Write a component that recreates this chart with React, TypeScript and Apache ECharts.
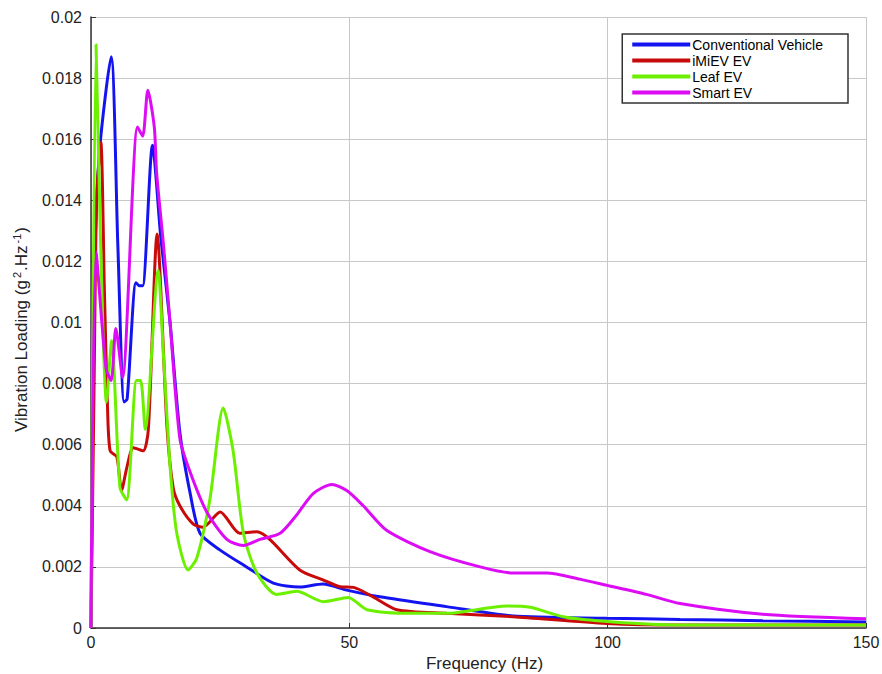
import React, { useEffect, useRef } from "react";
import * as echarts from "echarts";

const seriesNames = ["Conventional Vehicle", "iMiEV EV", "Leaf EV", "Smart EV"];
const seriesColors = ["#1414f0", "#c80a0a", "#6cf000", "#dc0cf5"];

const conventional: [number, number][] = [
  [0, 0], [0.6, 0.011], [1.6, 0.0155], [3.9, 0.0187], [5.2, 0.0125], [6.4, 0.0074], [7.0, 0.0075],
  [8.7, 0.0113], [9.4, 0.0112], [10.0, 0.0112], [11.9, 0.0158], [13.5, 0.0128], [15.3, 0.01],
  [17.2, 0.0064], [19.2, 0.0044], [21.1, 0.0031], [25, 0.00255], [30.1, 0.002], [35.3, 0.00147],
  [40.4, 0.00134], [44.9, 0.00144], [49.5, 0.00124], [55.9, 0.00102], [68.8, 0.0007], [81.7, 0.00039],
  [99.8, 0.00032], [114, 0.00028], [130, 0.00024], [150, 0.0002],
];

const imiev: [number, number][] = [
  [0, 0], [0.6, 0.008], [1.1, 0.0141], [1.9, 0.0159], [2.6, 0.011], [3.2, 0.0072], [3.7, 0.0058],
  [5, 0.0056], [5.9, 0.0045], [7, 0.0053], [8.2, 0.0059], [10.1, 0.0058], [11.1, 0.0065],
  [12.8, 0.0129], [14.7, 0.0066], [15.9, 0.0046], [17.2, 0.004], [19.8, 0.0034], [21.7, 0.0033],
  [25, 0.0038], [28.8, 0.0031], [32.1, 0.00315], [34.6, 0.0029], [40.4, 0.0019], [45, 0.00157],
  [48.2, 0.00135], [50.8, 0.00133], [54.6, 0.00102], [59.2, 0.0006], [68.8, 0.00048], [81.7, 0.00037],
  [99.8, 0.00015], [114, 0.0001], [150, 0.0001],
];

const leaf: [number, number][] = [
  [0, 0], [0.97, 0.0191], [1.8, 0.013], [3.0, 0.0074], [4.0, 0.0094], [5.6, 0.0046], [6.9, 0.0042],
  [8.8, 0.0081], [9.6, 0.0081], [10.5, 0.0065], [13.0, 0.0117], [14, 0.009], [15.3, 0.0053],
  [16.6, 0.0031], [18.8, 0.0019], [20.5, 0.0023], [23, 0.0042], [25.6, 0.0072], [27.5, 0.0058],
  [29.5, 0.0031], [32.1, 0.0018], [35.9, 0.0011], [39.8, 0.0012], [45, 0.00086], [49.8, 0.001],
  [53.4, 0.0006], [62.4, 0.00048], [68.8, 0.00048], [80.5, 0.00072], [85, 0.00068], [91.4, 0.00037],
  [101, 0.0002], [114, 0.0001], [150, 0.0001],
];

const smart: [number, number][] = [
  [0, 0], [0.97, 0.0123], [2.9, 0.0085], [3.9, 0.0081], [4.8, 0.0098], [6.1, 0.0082], [9.0, 0.0164],
  [10, 0.0161], [11, 0.0176], [12.25, 0.0164], [12.7, 0.0149], [14, 0.0126], [15.3, 0.01],
  [17.2, 0.0062], [19.2, 0.0051], [22.4, 0.0038], [26.3, 0.0029], [29.5, 0.0027], [32.7, 0.0029],
  [36.6, 0.0031], [39.8, 0.0037], [43, 0.0044], [46.6, 0.0047], [49.5, 0.0045], [52.7, 0.004],
  [57.2, 0.0032], [65.6, 0.0025], [75.3, 0.002], [81.7, 0.0018], [88.2, 0.0018], [94.6, 0.0016],
  [99.8, 0.0014], [107.5, 0.0011], [114, 0.0008], [130, 0.00045], [150, 0.0003],
];

const allData = [conventional, imiev, leaf, smart];

const FONT = "'Liberation Sans', Arial, sans-serif";

export default function App() {
  const ref = useRef<HTMLDivElement>(null);
  useEffect(() => {
    document.body.style.margin = "0";
    const chart = echarts.init(ref.current!, undefined, { renderer: "svg" });
    chart.setOption({
      animation: false,
      backgroundColor: "#ffffff",
      grid: { left: 91, right: 16, top: 17, bottom: 46, outerBoundsMode: "none", containLabel: false },
      legend: {
        orient: "vertical",
        right: 34,
        top: 34,
        itemWidth: 58,
        itemHeight: 4,
        itemGap: 1,
        padding: [3, 25, 3, 10],
        borderColor: "#333",
        borderWidth: 1.5,
        backgroundColor: "#fff",
        icon: "rect",
        textStyle: {
          fontFamily: FONT,
          fontSize: 14,
          lineHeight: 15,
          color: "#000",
          padding: [0, 0, 0, -3],
        },
        data: seriesNames,
      },
      xAxis: {
        type: "value",
        min: 0,
        max: 150,
        interval: 50,
        name: "Frequency (Hz)",
        nameLocation: "middle",
        nameGap: 21,
        nameTextStyle: { fontFamily: FONT, fontSize: 17, color: "#222", padding: [0, 0, 0, 12] },
        axisLine: { onZero: false, lineStyle: { color: "#333", width: 1.5 } },
        axisTick: { inside: true, length: 5, lineStyle: { color: "#333" } },
        axisLabel: { fontFamily: FONT, fontSize: 16, color: "#222", margin: 6 },
        splitLine: { show: true, lineStyle: { color: "#c8c8c8", width: 1 } },
      },
      yAxis: {
        type: "value",
        min: 0,
        max: 0.02,
        interval: 0.002,
        name: "Vibration Loading (g{sup|2}.Hz{sup|-1})",
        nameLocation: "middle",
        nameGap: 52,
        nameTextStyle: {
          fontFamily: FONT,
          fontSize: 17,
          lineHeight: 20,
          color: "#222",
          padding: [0, 14, 0, 0],
          rich: {
            sup: {
              fontFamily: FONT,
              fontSize: 11,
              lineHeight: 11,
              verticalAlign: "top",
              color: "#222",
              padding: [0, 1, 0, 2],
            },
          },
        },
        axisLine: { show: true, lineStyle: { color: "#333", width: 1.5 } },
        axisTick: { show: true, inside: true, length: 5, lineStyle: { color: "#333" } },
        axisLabel: {
          fontFamily: FONT,
          fontSize: 16,
          color: "#222",
          margin: 9,
          formatter: (v: number) => String(parseFloat(v.toFixed(3))),
        },
        splitLine: { show: true, lineStyle: { color: "#c8c8c8", width: 1 } },
      },
      series: seriesNames.map((name, i) => ({
        name,
        type: "line",
        data: allData[i],
        showSymbol: false,
        symbol: "none",
        smooth: 0.25,
        color: seriesColors[i],
        lineStyle: { color: seriesColors[i], width: 3 },
        z: 2 + i,
      })),
    });
    return () => chart.dispose();
  }, []);
  return <div ref={ref} style={{ width: 882, height: 674 }} />;
}
